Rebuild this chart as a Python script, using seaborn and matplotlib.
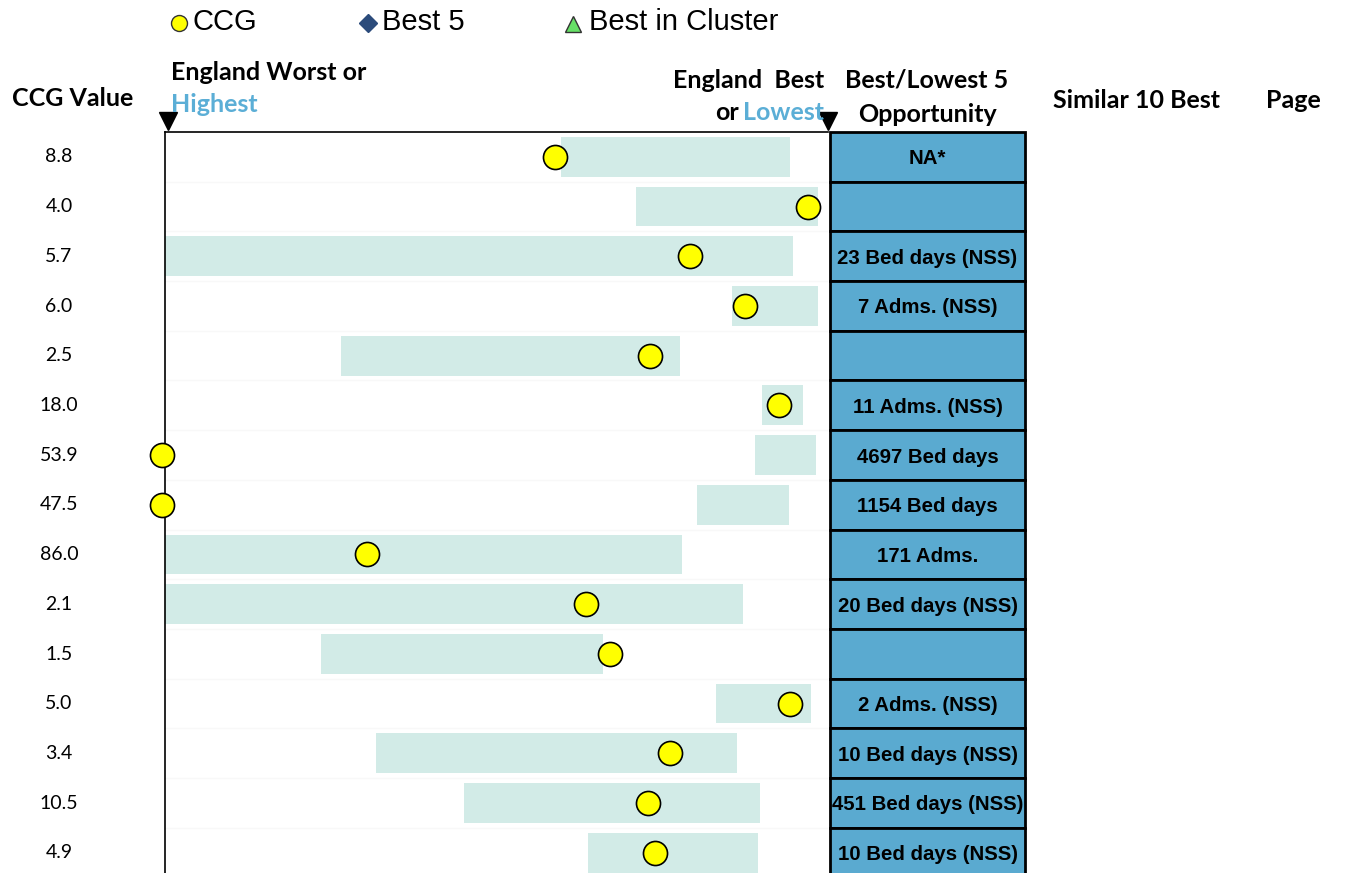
import matplotlib
matplotlib.use("Agg")
import matplotlib.pyplot as plt
import seaborn as sns
import pandas as pd
from matplotlib.patches import Rectangle

# ---- data -------------------------------------------------------------
ccg_values = ["8.8", "4.0", "5.7", "6.0", "2.5", "18.0", "53.9", "47.5",
              "86.0", "2.1", "1.5", "5.0", "3.4", "10.5", "4.9"]
# England range for each indicator, on a 0 (worst/highest) .. 100 (best/lowest) scale
range_low = [59.7, 71.0, 0.0, 85.5, 26.5, 90.0, 89.0, 80.2,
             0.0, 0.0, 23.5, 83.1, 31.8, 45.1, 63.8]
range_high = [94.3, 98.5, 94.7, 98.5, 77.7, 96.2, 98.2, 94.1,
              78.0, 87.2, 66.1, 97.4, 86.3, 89.7, 89.4]
# CCG position on the same scale
ccg_position = [58.8, 97.0, 79.2, 87.5, 73.2, 92.6, -0.4, -0.4,
                30.5, 63.5, 67.1, 94.3, 76.2, 72.9, 73.9]
opportunity = ["NA*", "", "23 Bed days (NSS)", "7 Adms. (NSS)", "",
               "11 Adms. (NSS)", "4697 Bed days", "1154 Bed days",
               "171 Adms.", "20 Bed days (NSS)", "", "2 Adms. (NSS)",
               "10 Bed days (NSS)", "451 Bed days (NSS)", "10 Bed days (NSS)"]

df = pd.DataFrame({"row": range(len(ccg_values)), "low": range_low,
                   "high": range_high, "pos": ccg_position})

# ---- styling ----------------------------------------------------------
sns.set_style("white")
plt.rcParams["text.color"] = "black"
W, H = 1345, 873
fig = plt.figure(figsize=(W / 100, H / 100), dpi=100)

BAR = "#D2EBE7"
BLUE = "#5AAAD0"
HEAD_BLUE = "#5BAED6"
HEAD_FONT = ["Lato", "DejaVu Sans"]
BODY_FONT = ["Liberation Sans", "DejaVu Sans"]


def px(x, y):
    return x / W, 1 - y / H


n = len(ccg_values)
ylim = (14.41, -0.5)
ax_h = 741 / H

# ---- main range chart -------------------------------------------------
ax = fig.add_axes([165 / W, 0, 663 / W, ax_h])
ax.set_xlim(0, 100)
ax.set_ylim(*ylim)

for i in range(n - 1):
    ax.axhline(i + 0.5, color="#f8f8f8", lw=1, zorder=0)

ax.barh(df["row"], df["high"] - df["low"], left=df["low"], height=0.8,
        color=BAR, edgecolor="none", zorder=1)
sns.scatterplot(data=df, x="pos", y="row", ax=ax, s=300, color="#FFFF00",
                edgecolor="black", linewidth=1.2, zorder=3, clip_on=False,
                legend=False)

for side in ["right", "bottom"]:
    ax.spines[side].set_visible(False)
for side in ["left", "top"]:
    ax.spines[side].set_color("black")
    ax.spines[side].set_linewidth(1.2)
ax.set_xticks([])
ax.set_yticks([])
ax.set_xlabel("")
ax.set_ylabel("")

# marker arrows at both ends of the scale
fig.lines.append(plt.Line2D([168 / W, 828 / W], [1 - 121 / H, 1 - 121 / H],
                            transform=fig.transFigure, ls="none", marker="v",
                            markersize=13, color="black"))

# ---- opportunity column ----------------------------------------------
tx = fig.add_axes([830 / W, 0, 195 / W, ax_h])
tx.set_xlim(0, 1)
tx.set_ylim(*ylim)
tx.axis("off")
for i, label in enumerate(opportunity):
    tx.add_patch(Rectangle((0, i - 0.5), 1, 1, facecolor=BLUE,
                           edgecolor="black", lw=2, clip_on=False))
    if label:
        tx.text(0.5, i + 0.04, label, ha="center", va="center", fontsize=14.7,
                fontweight="bold", family=BODY_FONT, color="black")

# ---- CCG values -------------------------------------------------------
for i, v in enumerate(ccg_values):
    fig.text(*px(59, 157 + 49.71 * i), v, ha="center", va="center",
             fontsize=14, family=HEAD_FONT, color="black")

# ---- headers ----------------------------------------------------------
hd = dict(fontsize=18, fontweight="bold", family=HEAD_FONT, va="center")
fig.text(*px(12, 98), "CCG Value", ha="left", **hd)
fig.text(*px(171, 72), "England Worst or", ha="left", **hd)
fig.text(*px(171, 104), "Highest", ha="left", color=HEAD_BLUE, **hd)
fig.text(*px(824, 80), "England  Best", ha="right", **hd)
fig.text(*px(824, 113), "Lowest", ha="right", color=HEAD_BLUE, **hd)
fig.text(*px(739, 113), "or", ha="right", **hd)
fig.text(*px(927, 80), "Best/Lowest 5", ha="center", **hd)
fig.text(*px(927, 115), "Opportunity", ha="center", **hd)
fig.text(*px(1053, 101), "Similar 10 Best", ha="left", **hd)
fig.text(*px(1266, 101), "Page", ha="left", **hd)

# ---- key --------------------------------------------------------------
key = dict(fontsize=21, family=BODY_FONT, va="center", ha="left",
           color="black")
fig.lines.append(plt.Line2D([179 / W], [1 - 23 / H], transform=fig.transFigure,
                            marker="o", markersize=11.5, color="#FFFF00",
                            markeredgecolor="#333333", markeredgewidth=1))
fig.text(*px(193, 22), "CCG", **key)
fig.lines.append(plt.Line2D([368 / W], [1 - 23 / H], transform=fig.transFigure,
                            marker="D", markersize=9, color="#2B4B7B",
                            markeredgecolor="#2B4B7B"))
fig.text(*px(382, 22), "Best 5", **key)
fig.lines.append(plt.Line2D([573 / W], [1 - 24 / H], transform=fig.transFigure,
                            marker="^", markersize=12, color="#66E066",
                            markeredgecolor="#333333", markeredgewidth=1))
fig.text(*px(589, 22), "Best in Cluster", **key)

fig.savefig("out.png", dpi=100, facecolor="white")
